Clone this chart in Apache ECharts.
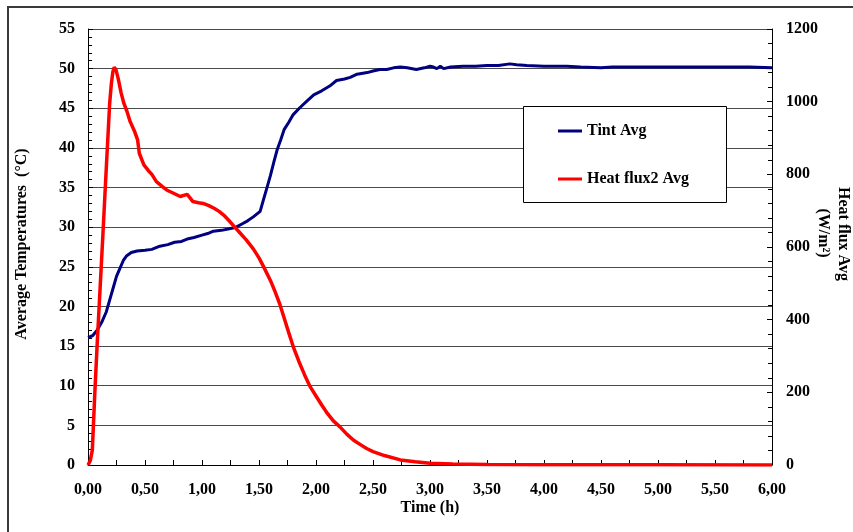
<!DOCTYPE html>
<html>
<head>
<meta charset="utf-8">
<script src="https://cdn.jsdelivr.net/npm/echarts@6/dist/echarts.min.js"></script>
<style>
html,body{margin:0;padding:0;background:#fff;}
#chart{width:853px;height:532px;}
</style>
</head>
<body>
<div id="chart"></div>
<script>
// Tint Avg (°C) vs time (h)
var tintTime = [0,0.04,0.08,0.12,0.16,0.19,0.22,0.25,0.28,0.31,0.34,0.38,0.43,0.5,0.56,0.63,0.7,0.76,0.82,0.87,0.93,1.0,1.05,1.1,1.17,1.24,1.3,1.35,1.4,1.45,1.51,1.54,1.57,1.6,1.63,1.66,1.69,1.72,1.76,1.8,1.86,1.92,1.98,2.05,2.12,2.18,2.25,2.3,2.36,2.45,2.5,2.56,2.62,2.68,2.74,2.8,2.88,2.95,3.0,3.03,3.06,3.09,3.12,3.18,3.29,3.4,3.5,3.6,3.7,3.76,3.85,4.0,4.2,4.32,4.5,4.6,4.8,5.0,5.2,5.4,5.6,5.8,6.0];
var tintValues = [16.1,16.3,17.0,18.0,19.3,20.8,22.3,23.8,24.8,25.8,26.4,26.8,27.0,27.1,27.2,27.6,27.8,28.1,28.2,28.5,28.7,29.0,29.2,29.5,29.6,29.8,30.0,30.4,30.8,31.3,32.0,33.5,35.0,36.5,38.2,39.8,41.0,42.3,43.2,44.2,45.1,45.9,46.7,47.2,47.8,48.5,48.7,48.9,49.3,49.5,49.7,49.9,49.9,50.1,50.2,50.1,49.9,50.1,50.3,50.2,50.0,50.3,50.0,50.2,50.3,50.3,50.4,50.4,50.6,50.5,50.4,50.3,50.3,50.2,50.1,50.2,50.2,50.2,50.2,50.2,50.2,50.2,50.1];
// Heat flux2 Avg (W/m²) vs time (h)
var fluxTime = [0,0.02,0.038,0.06,0.08,0.1,0.13,0.16,0.19,0.205,0.218,0.23,0.245,0.266,0.29,0.315,0.34,0.37,0.41,0.435,0.45,0.49,0.53,0.56,0.6,0.65,0.69,0.75,0.81,0.84,0.87,0.9,0.92,0.97,1.01,1.06,1.11,1.15,1.19,1.23,1.27,1.33,1.39,1.45,1.5,1.54,1.6,1.64,1.68,1.72,1.76,1.8,1.85,1.9,1.95,2.0,2.05,2.1,2.15,2.21,2.27,2.33,2.4,2.44,2.5,2.6,2.74,2.87,3.0,3.2,3.5,4.0,4.5,5.0,6.0];
var fluxValues = [0,12,41,200,330,450,630,815,995,1050,1082,1095,1088,1062,1025,995,975,945,917,895,858,826,810,800,780,767,757,748,739,742,745,733,725,722,720,714,706,698,688,675,661,640,619,595,570,546,508,478,445,405,365,326,285,248,215,190,165,142,122,105,85,68,54,46,37,26,14,9,5,3,1.5,0.8,0.5,0.4,0.3];

var seriesNames = ['Tint Avg', 'Heat flux2 Avg'];
var xTitle = 'Time (h)';
var leftTitle = 'Average Temperatures  (°C)';
var rightTitle1 = 'Heat flux Avg';
var rightTitle2 = '(W/m²)';

function pairs(t, v) { return t.map(function (x, i) { return [x, v[i]]; }); }

var FONT = '"Liberation Serif", "Times New Roman", serif';
var chart = echarts.init(document.getElementById('chart'), null, {renderer: 'canvas'});
var lbl = {color: '#000', fontFamily: FONT, fontWeight: 'bold', fontSize: 16};

chart.setOption({
  animation: false,
  backgroundColor: '#fff',
  grid: {left: 88, right: 81, top: 29, bottom: 67, containLabel: false},
  xAxis: {
    type: 'value', min: 0, max: 6, interval: 0.5,
    axisLine: {show: true, lineStyle: {color: '#000', width: 1}},
    axisTick: {show: true, inside: true, length: 5, lineStyle: {color: '#000'}},
    minorTick: {show: true, splitNumber: 2, length: 5, lineStyle: {color: '#000'}},
    splitLine: {show: false},
    axisLabel: Object.assign({margin: 17, formatter: function (v) { return v.toFixed(2).replace('.', ','); }}, lbl)
  },
  yAxis: [{
    type: 'value', min: 0, max: 55, interval: 5, position: 'left',
    axisLine: {show: true, lineStyle: {color: '#000', width: 1}},
    axisTick: {show: true, inside: true, length: 5, lineStyle: {color: '#000'}},
    minorTick: {show: true, splitNumber: 5, length: 4, lineStyle: {color: '#000'}},
    splitLine: {show: true, lineStyle: {color: '#4a4a4a', width: 1}},
    axisLabel: Object.assign({margin: 13, formatter: function (v) { return String(v); }}, lbl)
  }, {
    type: 'value', min: 0, max: 1200, interval: 200, position: 'right',
    axisLine: {show: true, lineStyle: {color: '#000', width: 1}},
    axisTick: {show: true, inside: true, length: 5, lineStyle: {color: '#000'}},
    minorTick: {show: true, splitNumber: 5, length: 4, lineStyle: {color: '#000'}},
    splitLine: {show: false},
    axisLabel: Object.assign({margin: 14, formatter: function (v) { return String(v); }}, lbl)
  }],
  legend: {
    orient: 'vertical', left: 558, top: 123, z: 20,
    itemWidth: 24, itemHeight: 3, itemGap: 32, padding: 0,
    icon: 'rect',
    textStyle: {color: '#000', fontFamily: FONT, fontWeight: 'bold', fontSize: 16, lineHeight: 16},
    data: seriesNames
  },
  series: [{
    name: seriesNames[0], type: 'line', yAxisIndex: 0, showSymbol: false, symbol: 'none',
    color: '#000080', lineStyle: {color: '#000080', width: 3}, z: 3,
    data: pairs(tintTime, tintValues)
  }, {
    name: seriesNames[1], type: 'line', yAxisIndex: 1, showSymbol: false, symbol: 'none',
    color: '#ff0000', lineStyle: {color: '#ff0000', width: 3.5}, z: 4,
    data: pairs(fluxTime, fluxValues)
  }],
  graphic: [
    {type: 'rect', z: 5, shape: {x: 523.5, y: 106.5, width: 203, height: 96}, style: {fill: '#fff', stroke: '#000', lineWidth: 1}},
    {type: 'line', z: 1, shape: {x1: 8, y1: 7, x2: 853, y2: 7}, style: {stroke: '#3a3a3a', lineWidth: 2}},
    {type: 'line', z: 1, shape: {x1: 8, y1: 6, x2: 8, y2: 532}, style: {stroke: '#3a3a3a', lineWidth: 2}},
    {type: 'text', z: 10, x: 430, y: 508, style: {text: xTitle, textAlign: 'center', textVerticalAlign: 'middle', font: 'bold 16px ' + FONT, fill: '#000'}},
    {type: 'text', z: 10, x: 22, y: 244, rotation: Math.PI / 2, style: {text: leftTitle, textAlign: 'center', textVerticalAlign: 'middle', font: 'bold 16px ' + FONT, fill: '#000'}},
    {type: 'text', z: 10, x: 843, y: 234, rotation: -Math.PI / 2, style: {text: rightTitle1, textAlign: 'center', textVerticalAlign: 'middle', font: 'bold 16px ' + FONT, fill: '#000'}},
    {type: 'text', z: 10, x: 823, y: 233, rotation: -Math.PI / 2, style: {text: rightTitle2, textAlign: 'center', textVerticalAlign: 'middle', font: 'bold 16px ' + FONT, fill: '#000'}}
  ]
});
</script>
</body>
</html>
